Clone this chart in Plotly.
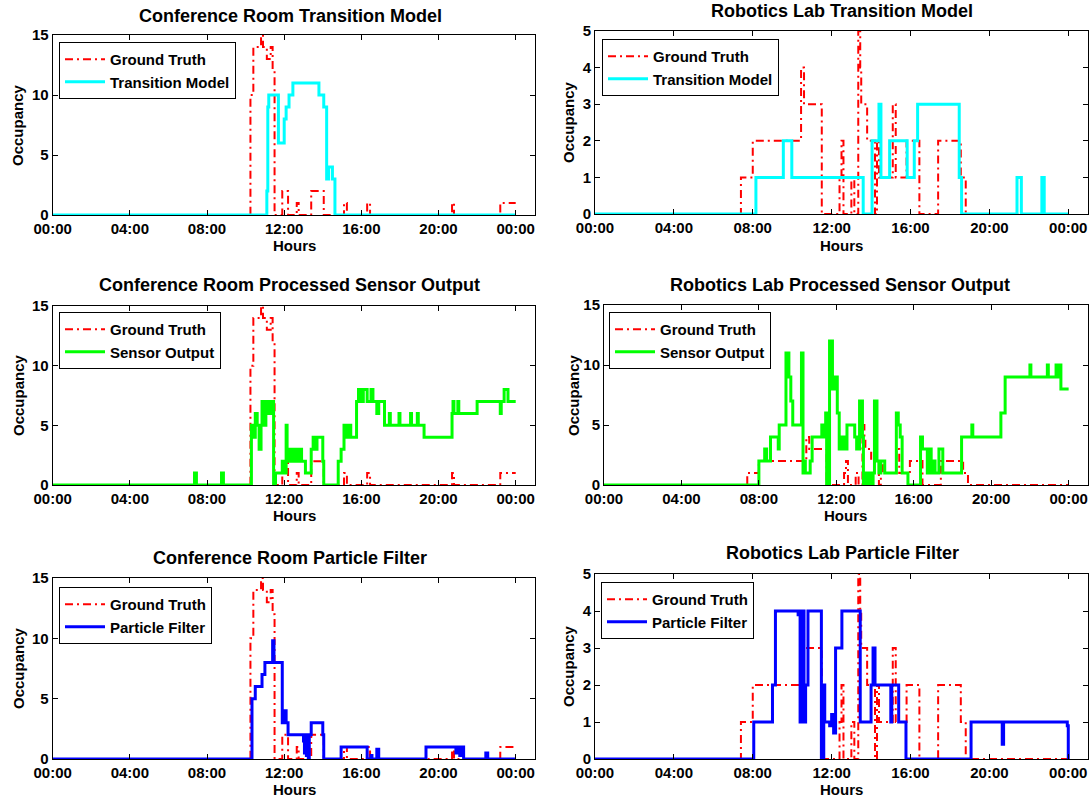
import plotly.graph_objects as go

# ---------------- data (hours, occupancy) ----------------
hour_ticks = [0, 4, 8, 12, 16, 20, 24]
hour_labels = ["00:00", "04:00", "08:00", "12:00", "16:00", "20:00", "00:00"]

conf_gt_t = [0, 10.25, 10.4, 10.8, 10.9, 11.1, 11.3, 11.4, 11.5, 11.9, 12.2, 12.65, 12.75, 13.4, 14.05,
             15.1, 15.25, 16.3, 16.45, 20.7, 20.8, 23.2, 24.0]
conf_gt_v = [0, 10, 14, 15, 14, 13, 14, 12, 0, 2, 0, 1, 0, 2, 0,
             1, 0, 1, 0, 1, 0, 1, 1]

conf_tm_t = [0, 11.1, 11.15, 11.2, 11.7, 12.0, 12.1, 12.25, 12.45, 13.8, 14.05, 14.2, 14.3, 14.5, 14.63, 24.0]
conf_tm_v = [0, 2, 9, 10, 6, 8, 9, 10, 11, 10, 9, 3, 4, 3, 0, 0]

conf_so_t = [0, 7.35, 7.45, 8.75, 8.85, 10.3, 10.4, 10.5, 10.6, 10.7, 10.8, 10.85, 11.0, 11.05, 11.2, 11.3,
             11.45, 11.55, 11.9, 12.05, 12.1, 12.15, 12.2, 12.3, 12.4, 12.5, 12.6, 12.7, 12.8, 12.9, 13.1,
             13.4, 13.5, 13.6, 13.7, 14.0, 14.05, 14.8, 14.95, 15.1, 15.2, 15.3, 15.45, 15.75, 15.85, 16.0,
             16.1, 16.3, 16.5, 16.6, 16.8, 16.9, 17.2, 17.45, 17.5, 17.95, 18.0, 18.55, 18.6, 18.9, 18.95,
             19.25, 20.7, 20.75, 20.8, 21.0, 21.05, 22.0, 23.2, 23.25, 23.4, 23.6, 24.0]
conf_so_v = [0, 1, 0, 1, 0, 5, 4, 6, 5, 3, 5, 7, 5, 7, 6, 7,
             0, 1, 2, 1, 5, 2, 3, 2, 3, 2, 3, 2, 3, 2, 1,
             3, 4, 3, 4, 2, 0, 2, 3, 5, 4, 5, 4, 7, 8, 7,
             8, 7, 8, 7, 6, 7, 5, 6, 5, 6, 5, 6, 5, 6, 5,
             4, 6, 7, 6, 7, 6, 7, 6, 7, 8, 7, 7]

conf_pf_t = [0, 10.33, 10.5, 10.85, 11.0, 11.4, 11.47, 11.9, 12.05, 12.1, 12.2, 13.0, 13.05, 13.1, 13.15,
             13.2, 13.25, 13.3, 13.4, 14.0, 14.05, 14.95, 16.3, 16.5, 16.55, 16.8, 16.9, 19.35, 20.9,
             20.95, 21.1, 21.15, 21.3, 22.45, 22.55, 24.0]
conf_pf_v = [0, 5, 6, 7, 8, 9.8, 8, 3, 4, 3, 2, 1.5, 0.5, 2, 0.3,
             1.8, 0, 2, 3, 2, 0, 1, 0, 0.3, 0, 0.8, 0, 1, 0.5,
             1, 0.3, 1, 0, 0.5, 0, 0]

rob_gt_t = [0, 7.4, 8.0, 10.45, 10.6, 11.5, 12.4, 12.5, 12.6, 13.0, 13.15, 13.35, 13.45, 13.5, 13.8, 14.2,
            14.3, 14.4, 15.1, 15.25, 15.8, 16.45, 17.4, 18.55, 18.8, 24.0]
rob_gt_v = [0, 1, 2, 4, 3, 0, 1, 2, 0, 1, 0, 5, 4, 3, 2, 0,
            2, 1, 3, 1, 2, 0, 2, 1, 0, 0]

rob_tm_t = [0, 8.16, 9.55, 9.98, 13.6, 14.05, 14.4, 14.5, 14.94, 15.83, 16.19, 16.36, 18.47, 18.59,
            21.4, 21.62, 22.66, 22.78, 24.0]
rob_tm_v = [0, 1, 2, 1, 0, 2, 3, 1, 2, 1, 2, 3, 1, 0,
            1, 0, 1, 0, 0]

rob_so_t = [0, 8.0, 8.3, 8.4, 8.6, 9.0, 9.05, 9.4, 9.55, 9.65, 9.75, 10.2, 10.28, 10.35, 10.4, 10.65,
            10.75, 11.25, 11.3, 11.45, 11.5, 11.65, 11.8, 11.9, 12.05, 12.15, 12.3, 12.4, 12.55, 12.95,
            13.05, 13.2, 13.35, 13.4, 13.5, 13.55, 13.7, 13.75, 13.9, 13.97, 14.1, 14.2, 14.3, 14.5,
            15.1, 15.2, 15.3, 15.4, 15.7, 16.35, 16.45, 16.7, 16.8, 16.9, 17.0, 17.1, 17.3, 17.5, 18.47,
            19.0, 19.05, 20.5, 20.72, 22.0, 22.05, 22.9, 22.95, 23.35, 23.45, 23.5, 23.6, 24.0]
rob_so_v = [0, 2, 3, 2, 4, 3, 5, 11, 9, 7, 5, 11, 1, 2, 1, 2,
            4, 5, 4, 6, 0, 12, 8, 9, 6, 3, 4, 3, 5, 4,
            3, 7, 4, 0, 1, 0, 1, 0, 1, 7, 2, 1, 2, 1,
            6, 5, 4, 1, 0, 4, 3, 1, 3, 1, 2, 1, 3, 1, 4,
            5, 4, 6, 9, 10, 9, 10, 9, 10, 9, 10, 8, 8]

rob_pf_t = [0, 8.05, 9.0, 9.15, 10.3, 10.4, 10.45, 10.5, 10.55, 10.6, 10.68, 10.8, 11.48, 11.6, 11.65,
            11.9, 12.0, 12.05, 12.1, 12.2, 12.52, 13.45, 14.0, 14.1, 14.2, 15.0, 15.05, 15.4, 15.77,
            19.07, 20.65, 20.72, 23.95, 24.0]
rob_pf_v = [0, 1, 2, 4, 3.9, 1, 4, 1, 4, 1, 2, 4, 0, 2, 1,
            0.9, 1.2, 1, 0.7, 3, 4, 1, 2, 3, 2, 1, 2, 1, 0,
            1, 0.4, 1, 0.9, 0]

# ---------------- styling ----------------
W, H = 1092, 801
FONT = "Liberation Sans"
GT_STYLE = dict(color="#ff0000", width=2, dash="8px,4px,2px,4px")


def px_x(p):
    return p / W


def px_y(p):
    return 1 - p / H


panels = [
    dict(title="Conference Room Transition Model", x0=52.7, x1=535, y0=35, y1=215, ymax=15, dy=5,
         gt=(conf_gt_t, conf_gt_v), est=(conf_tm_t, conf_tm_v), name="Transition Model", color="#00ffff",
         leg=(59, 42), tpos=(290, 16), hpos=(294, 246), opos=(18, 125)),
    dict(title="Robotics Lab Transition Model", x0=595, x1=1088, y0=31, y1=214, ymax=5, dy=1,
         gt=(rob_gt_t, rob_gt_v), est=(rob_tm_t, rob_tm_v), name="Transition Model", color="#00ffff",
         leg=(602, 39), tpos=(842, 11), hpos=(841, 245), opos=(568, 122)),
    dict(title="Conference Room Processed Sensor Output", x0=52.7, x1=535, y0=306, y1=485, ymax=15, dy=5,
         gt=(conf_gt_t, conf_gt_v), est=(conf_so_t, conf_so_v), name="Sensor Output", color="#00ff00",
         leg=(59, 312), tpos=(289, 285), hpos=(294, 515), opos=(18, 395)),
    dict(title="Robotics Lab Processed Sensor Output", x0=604, x1=1088, y0=305, y1=485, ymax=15, dy=5,
         gt=(rob_gt_t, rob_gt_v), est=(rob_so_t, rob_so_v), name="Sensor Output", color="#00ff00",
         leg=(609, 312), tpos=(840, 285), hpos=(845, 515), opos=(573, 395)),
    dict(title="Conference Room Particle Filter", x0=52.7, x1=535, y0=578, y1=759, ymax=15, dy=5,
         gt=(conf_gt_t, conf_gt_v), est=(conf_pf_t, conf_pf_v), name="Particle Filter", color="#0000ff",
         leg=(59, 587), tpos=(290, 558), hpos=(294, 789), opos=(18, 668)),
    dict(title="Robotics Lab Particle Filter", x0=595, x1=1088, y0=574, y1=759, ymax=5, dy=1,
         gt=(rob_gt_t, rob_gt_v), est=(rob_pf_t, rob_pf_v), name="Particle Filter", color="#0000ff",
         leg=(601, 582), tpos=(842, 553), hpos=(841, 789), opos=(568, 666)),
]

fig = go.Figure()
layout = dict(width=W, height=H, margin=dict(l=0, r=0, t=0, b=0, pad=0, autoexpand=False),
              paper_bgcolor="white", plot_bgcolor="white", showlegend=True,
              font=dict(family=FONT, size=15, color="black"))
annotations = []

for i, p in enumerate(panels, start=1):
    sfx = "" if i == 1 else str(i)
    xa, ya = "x" + sfx, "y" + sfx
    leg = "legend" + sfx
    fig.add_trace(go.Scatter(x=p["gt"][0], y=p["gt"][1], mode="lines", line_shape="hv",
                             line=GT_STYLE, name="Ground Truth", xaxis=xa, yaxis=ya, legend=leg))
    fig.add_trace(go.Scatter(x=p["est"][0], y=p["est"][1], mode="lines", line_shape="hv",
                             line=dict(color=p["color"], width=3), name=p["name"],
                             xaxis=xa, yaxis=ya, legend=leg))
    common = dict(showline=True, linecolor="black", linewidth=1, mirror="ticks", ticks="inside",
                  ticklen=5, tickcolor="black", showgrid=False, zeroline=False, automargin=False,
                  tickfont=dict(family=FONT, size=15, weight="bold", color="black"))
    layout["xaxis" + sfx] = dict(common, domain=[px_x(p["x0"]), px_x(p["x1"])], range=[0, 25],
                                 tickvals=hour_ticks, ticktext=hour_labels, anchor=ya)
    layout["yaxis" + sfx] = dict(common, domain=[px_y(p["y1"]), px_y(p["y0"])], range=[0, p["ymax"]],
                                 tickvals=list(range(0, p["ymax"] + 1, p["dy"])), anchor=xa)
    layout[leg] = dict(x=px_x(p["leg"][0]), y=px_y(p["leg"][1]), xanchor="left", yanchor="top",
                       bgcolor="white", bordercolor="black", borderwidth=1,
                       font=dict(family=FONT, size=15, weight="bold", color="black"),
                       tracegroupgap=0, itemwidth=40)
    annotations.append(dict(text=p["title"], x=px_x(p["tpos"][0]), y=px_y(p["tpos"][1]),
                            xref="paper", yref="paper", showarrow=False, xanchor="center", yanchor="middle",
                            font=dict(family=FONT, size=18, weight="bold", color="black")))
    annotations.append(dict(text="Hours", x=px_x(p["hpos"][0]), y=px_y(p["hpos"][1]),
                            xref="paper", yref="paper", showarrow=False, xanchor="center", yanchor="middle",
                            font=dict(family=FONT, size=15, weight="bold", color="black")))
    annotations.append(dict(text="Occupancy", x=px_x(p["opos"][0]), y=px_y(p["opos"][1]),
                            xref="paper", yref="paper", showarrow=False, xanchor="center", yanchor="middle",
                            textangle=-90,
                            font=dict(family=FONT, size=15, weight="bold", color="black")))

layout["annotations"] = annotations
fig.update_layout(**layout)
# remove the default 8px page margin so the figure sits at the window's top-left corner
fig.write_html("out.html", config={"displayModeBar": False},
               post_script="document.body.style.margin='0px';document.body.style.overflow='hidden';")
